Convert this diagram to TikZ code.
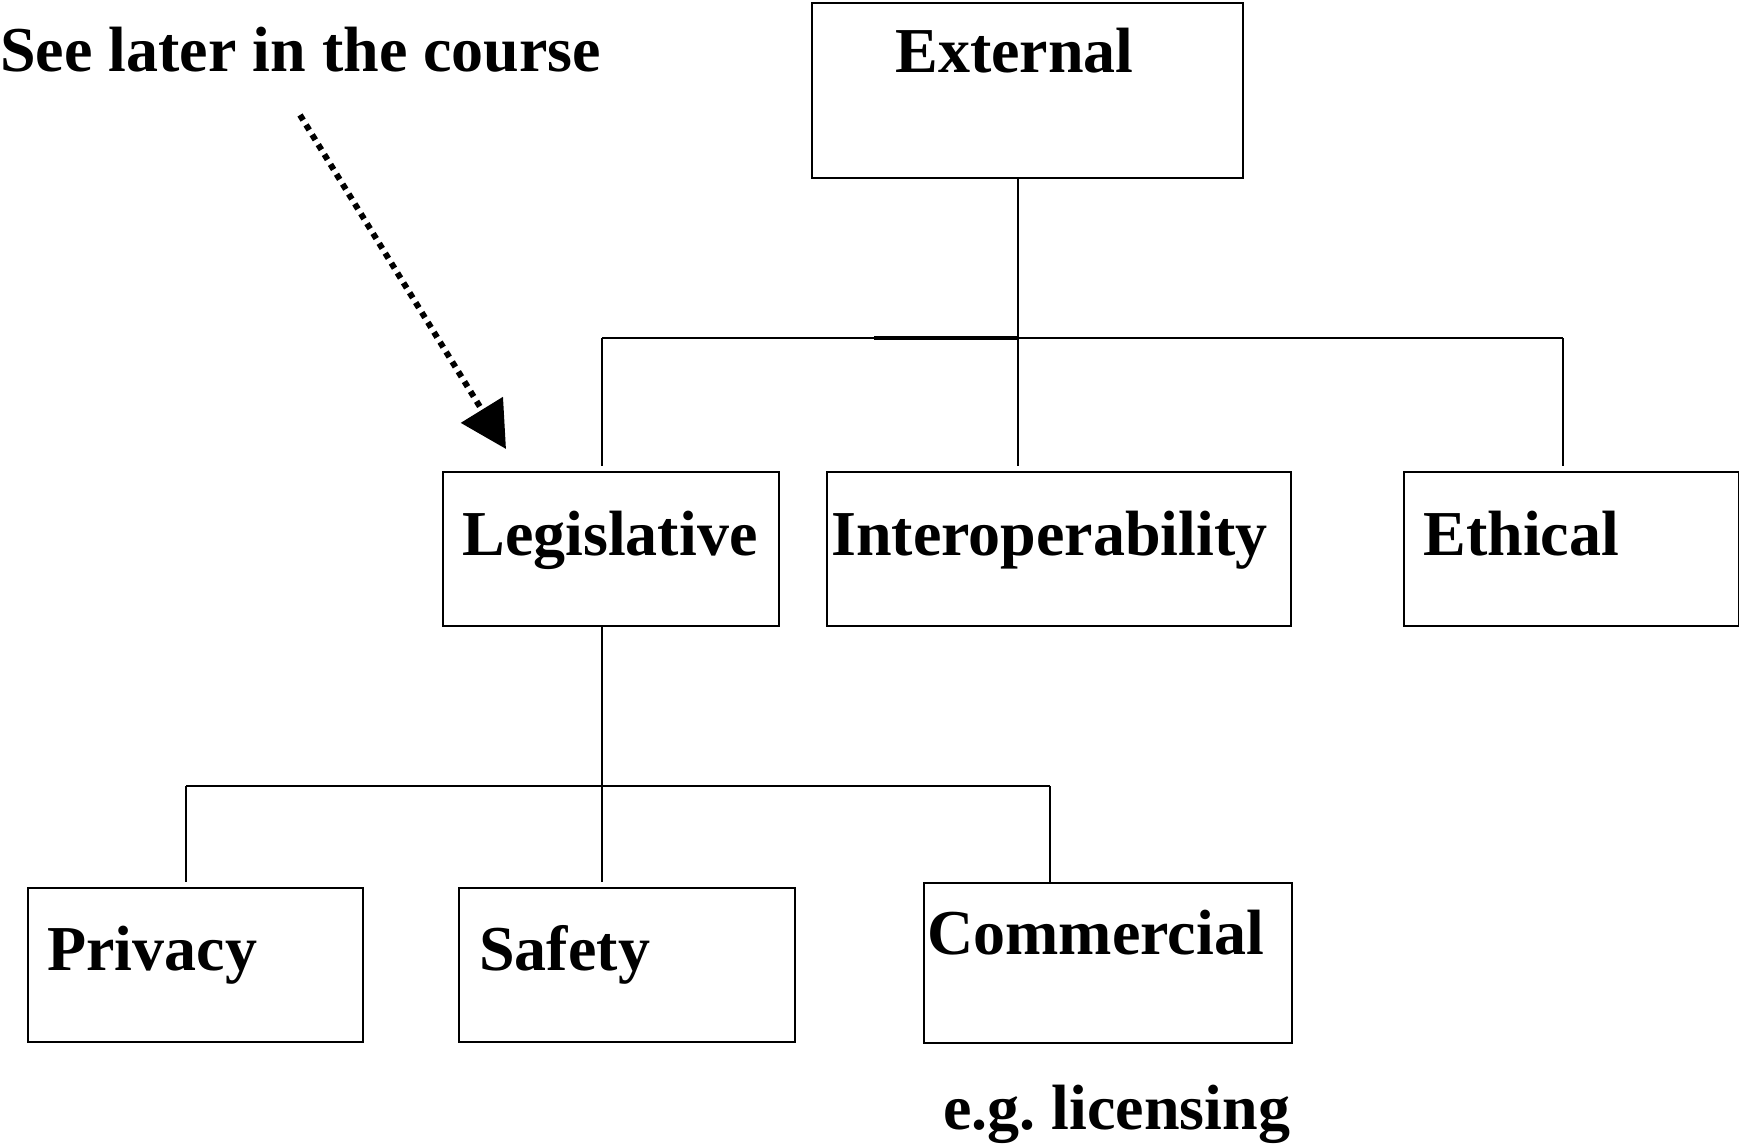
\documentclass[tikz,border=0pt]{standalone}
\usepackage{fontspec}
\setmainfont{Liberation Serif}
\usetikzlibrary{arrows.meta,calc}
\begin{document}
\begin{tikzpicture}[x=0.5pt,y=-0.5pt,
  box/.style={draw=black,line width=1pt,inner sep=0pt,anchor=north west},
  lbl/.style={anchor=base west,inner sep=0pt,font=\fontsize{32}{38}\selectfont\bfseries},
  conn/.style={draw=black,line width=0.9pt}]
\useasboundingbox (0,0) rectangle (1739,1145);
% boxes
\node[box,minimum width=431*0.5pt,minimum height=175*0.5pt] (ext) at (811,2) {};
\node[box,minimum width=336*0.5pt,minimum height=154*0.5pt] (leg) at (442,471) {};
\node[box,minimum width=464*0.5pt,minimum height=154*0.5pt] (inter) at (826,471) {};
\node[box,minimum width=335*0.5pt,minimum height=154*0.5pt] (eth) at (1403,471) {};
\node[box,minimum width=335*0.5pt,minimum height=154*0.5pt] (priv) at (27,887) {};
\node[box,minimum width=336*0.5pt,minimum height=154*0.5pt] (safe) at (458,887) {};
\node[box,minimum width=368*0.5pt,minimum height=160*0.5pt] (comm) at (923,882) {};
% texts
\node[lbl] (textext) at (895,73) {External};
\node[lbl] (textleg) at (462,555) {Legislative};
\node[lbl] (textinter) at (831,555) {Interoperability};
\node[lbl] (texteth) at (1423,555) {Ethical};
\node[lbl] (textpriv) at (47,970) {Privacy};
\node[lbl] (textsafe) at (479,970) {Safety};
\node[lbl] (textcomm) at (927,954) {Commercial};
\node[lbl] (eg) at (943,1129) {e.g.\ licensing};
\node[lbl] (note) at (0,72) {See later in the course};
% bus coordinates
\coordinate (extdown) at (1018,177);
\coordinate (busA) at (1018,338);
\coordinate (busL) at (602,338);
\coordinate (busR) at (1563,338);
\coordinate (legdown) at (602,625);
\coordinate (busB) at (602,786);
\coordinate (busBL) at (186,786);
\coordinate (busBR) at (1050,786);
% upper tree
\draw[conn] (extdown) -- (busA);
\draw[conn] (busL) -- (busR);
\draw[line width=2pt] (874,338) -- (busA);
\draw[conn] (busL) -- (busL |- 0,466);
\draw[conn] (busA) -- (busA |- 0,466);
\draw[conn] (busR) -- (busR |- 0,466);
% lower tree
\draw[conn] (legdown) -- (busB);
\draw[conn] (busBL) -- (busBR);
\draw[conn] (busBL) -- (busBL |- 0,882);
\draw[conn] (busB) -- (busB |- 0,882);
\draw[conn] (busBR) -- (busBR |- comm.north);
% dotted arrow
\coordinate (arrS) at (300,115);
\coordinate (arrE) at (506,449);
\draw[line width=3pt,dash pattern=on 3pt off 2.8pt,-{Triangle[length=23pt,width=24pt]}] (arrS) -- (arrE);
\end{tikzpicture}
\end{document}
